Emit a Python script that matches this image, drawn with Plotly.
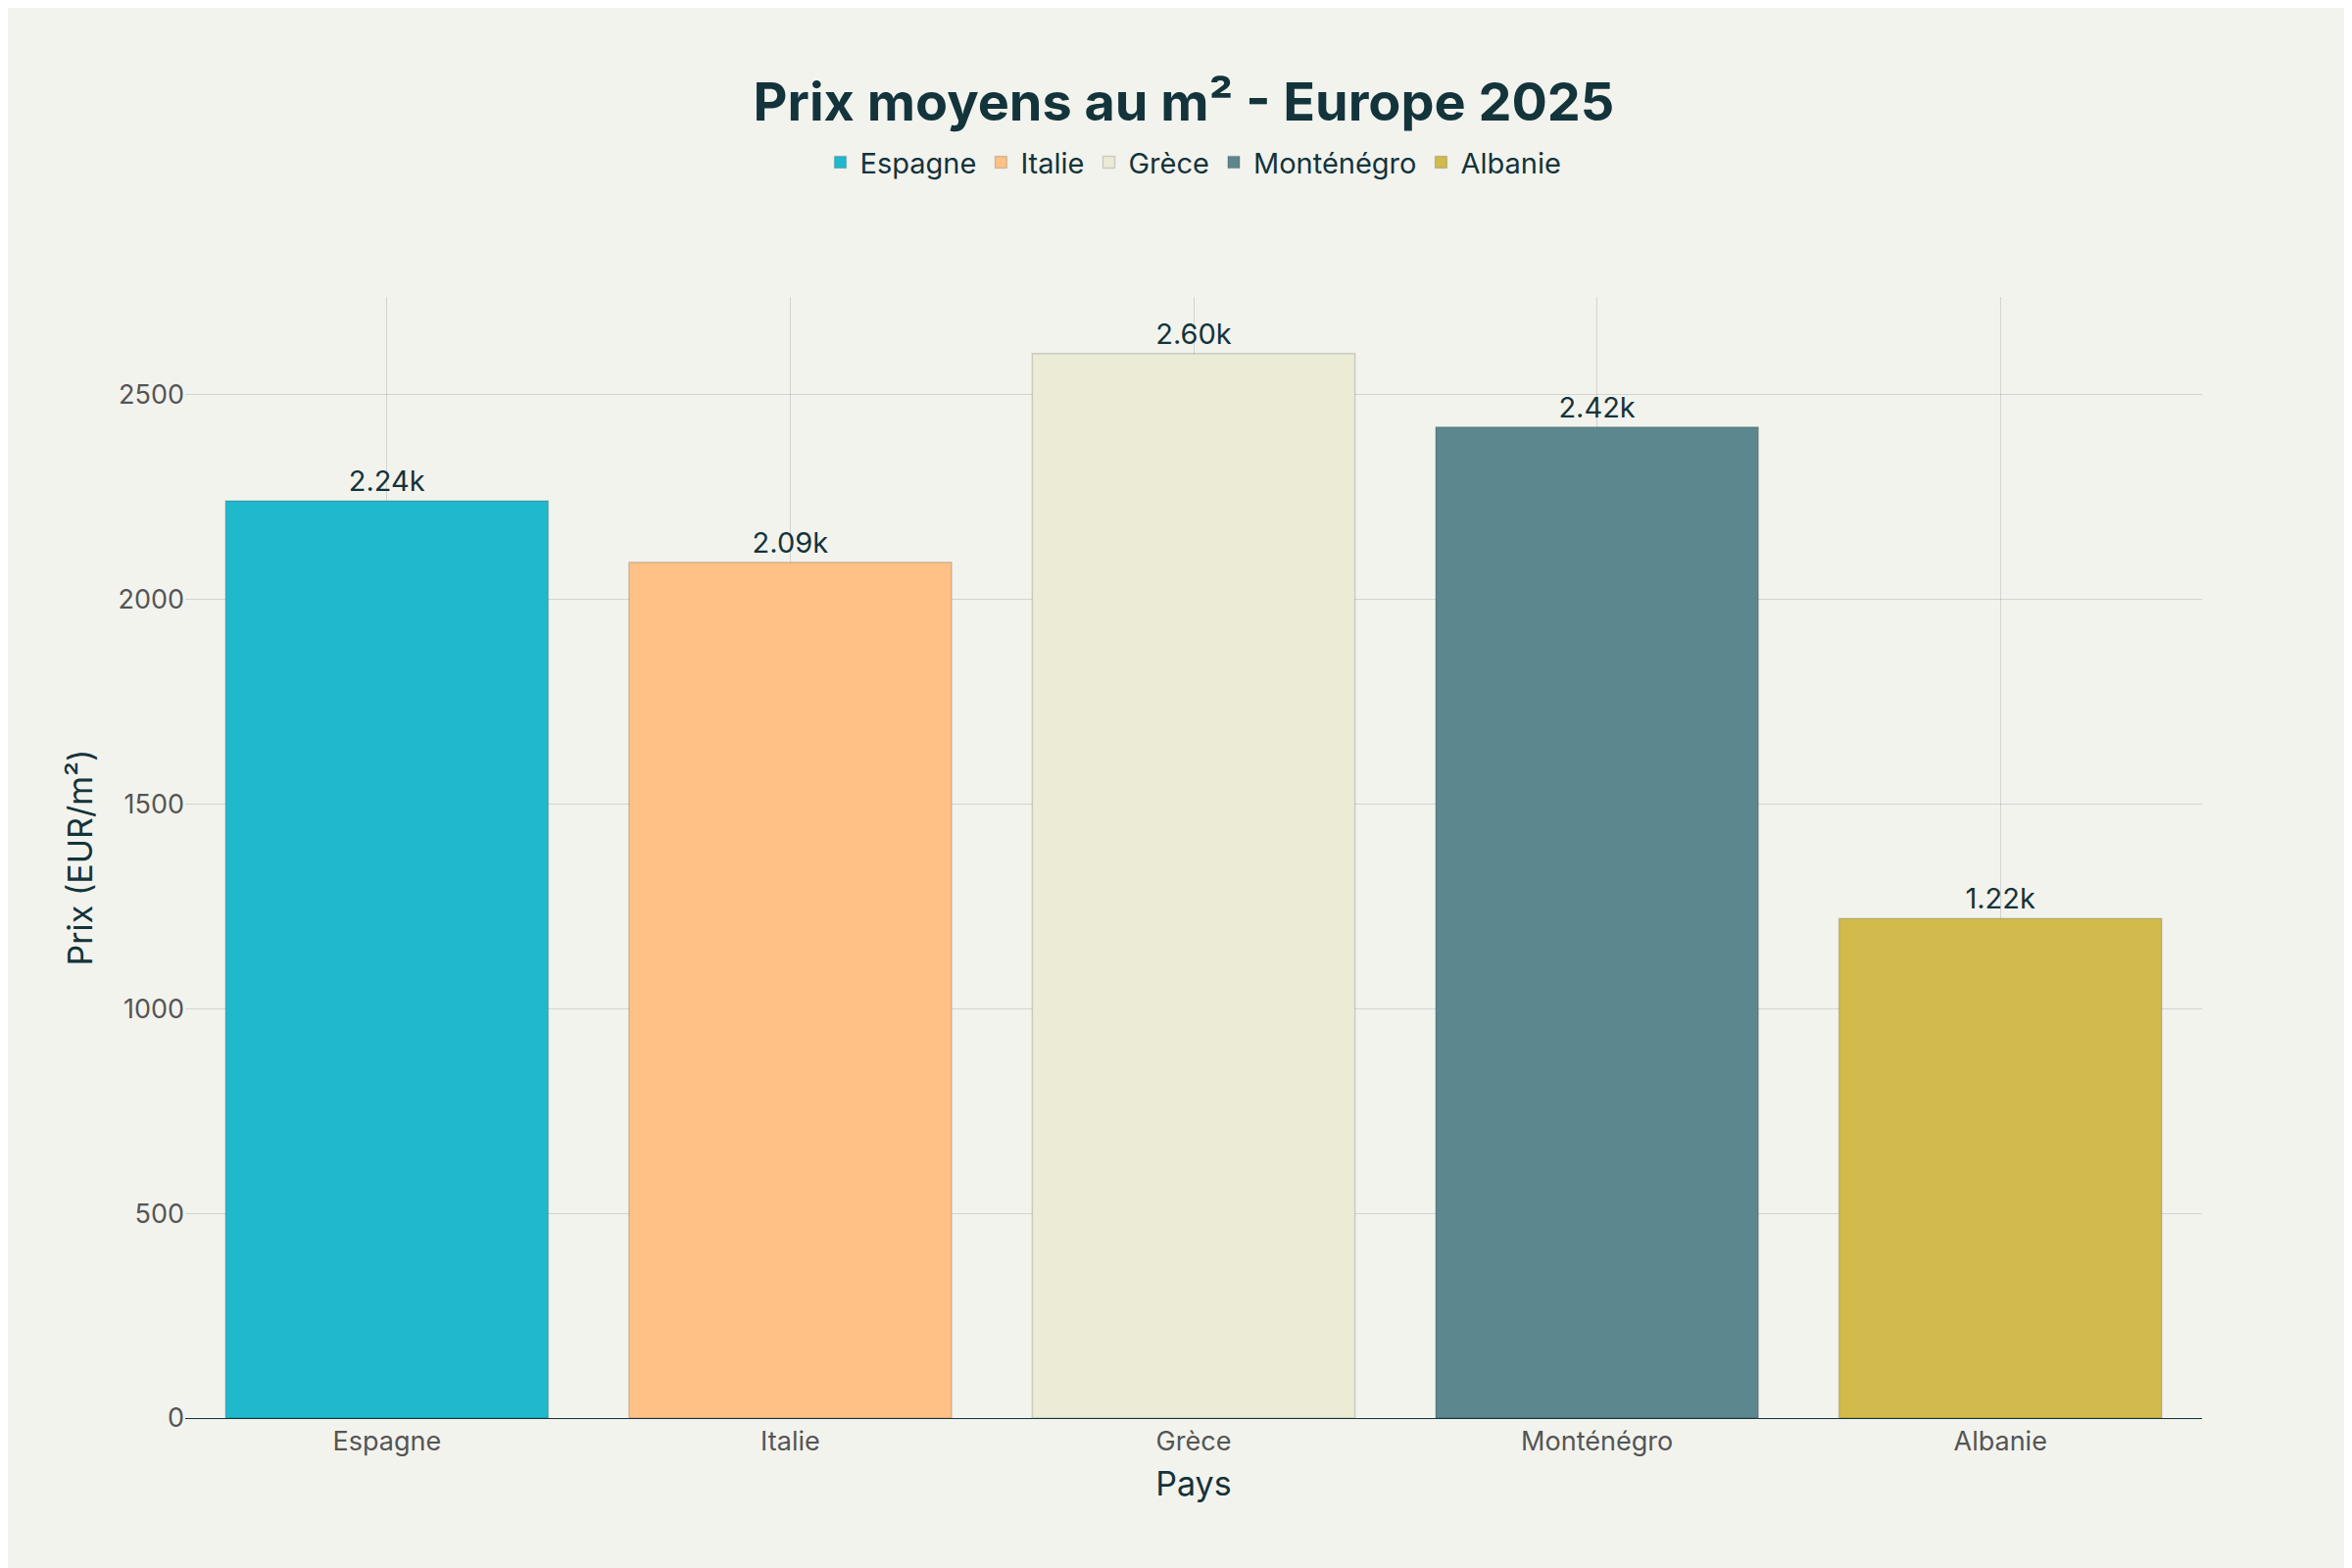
import plotly.graph_objects as go

pays = ['Espagne', 'Italie', 'Grèce', 'Monténégro', 'Albanie']
prix = [2240, 2090, 2600, 2420, 1220]
couleurs = ['#1FB8CD', '#FFC185', '#ECEBD5', '#5D878F', '#D2BA4C']

fig = go.Figure()
for p, v, c in zip(pays, prix, couleurs):
    fig.add_trace(go.Bar(
        x=[p], y=[v], name=p,
        marker=dict(color=c, line=dict(color='rgba(0,0,0,0.15)', width=1.5)),
        text=[f"{v/1000:.2f}k"], textposition='outside', cliponaxis=False,
        textfont=dict(size=29, color='#13343B'),
        width=0.8,
    ))

fig.update_layout(
    width=2400, height=1600,
    barmode='overlay',
    paper_bgcolor='#F3F3EE', plot_bgcolor='#F3F3EE',
    font=dict(family='Inter, Open Sans, sans-serif', color='#13343B', size=28),
    title=dict(text='<b>Prix moyens au m² - Europe 2025</b>', x=0.5, y=0.94,
               xanchor='center', yanchor='middle', font=dict(size=54)),
    legend=dict(orientation='h', x=0.5, xanchor='center', y=1.12, yanchor='middle',
                font=dict(size=29)),
    margin=dict(l=181, r=161, t=295, b=161),
)
fig.update_xaxes(title=dict(text='Pays', font=dict(size=34)), showgrid=True,
                 gridcolor='rgba(0,0,0,0.13)', showline=True, linecolor='#13343B',
                 tickfont=dict(size=27, color='#555'))
fig.update_yaxes(title=dict(text='Prix (EUR/m²)', font=dict(size=34)), range=[0, 2738],
                 gridcolor='rgba(0,0,0,0.13)', zeroline=False, dtick=500,
                 tickfont=dict(size=27, color='#555'))

fig.write_html("out.html")
